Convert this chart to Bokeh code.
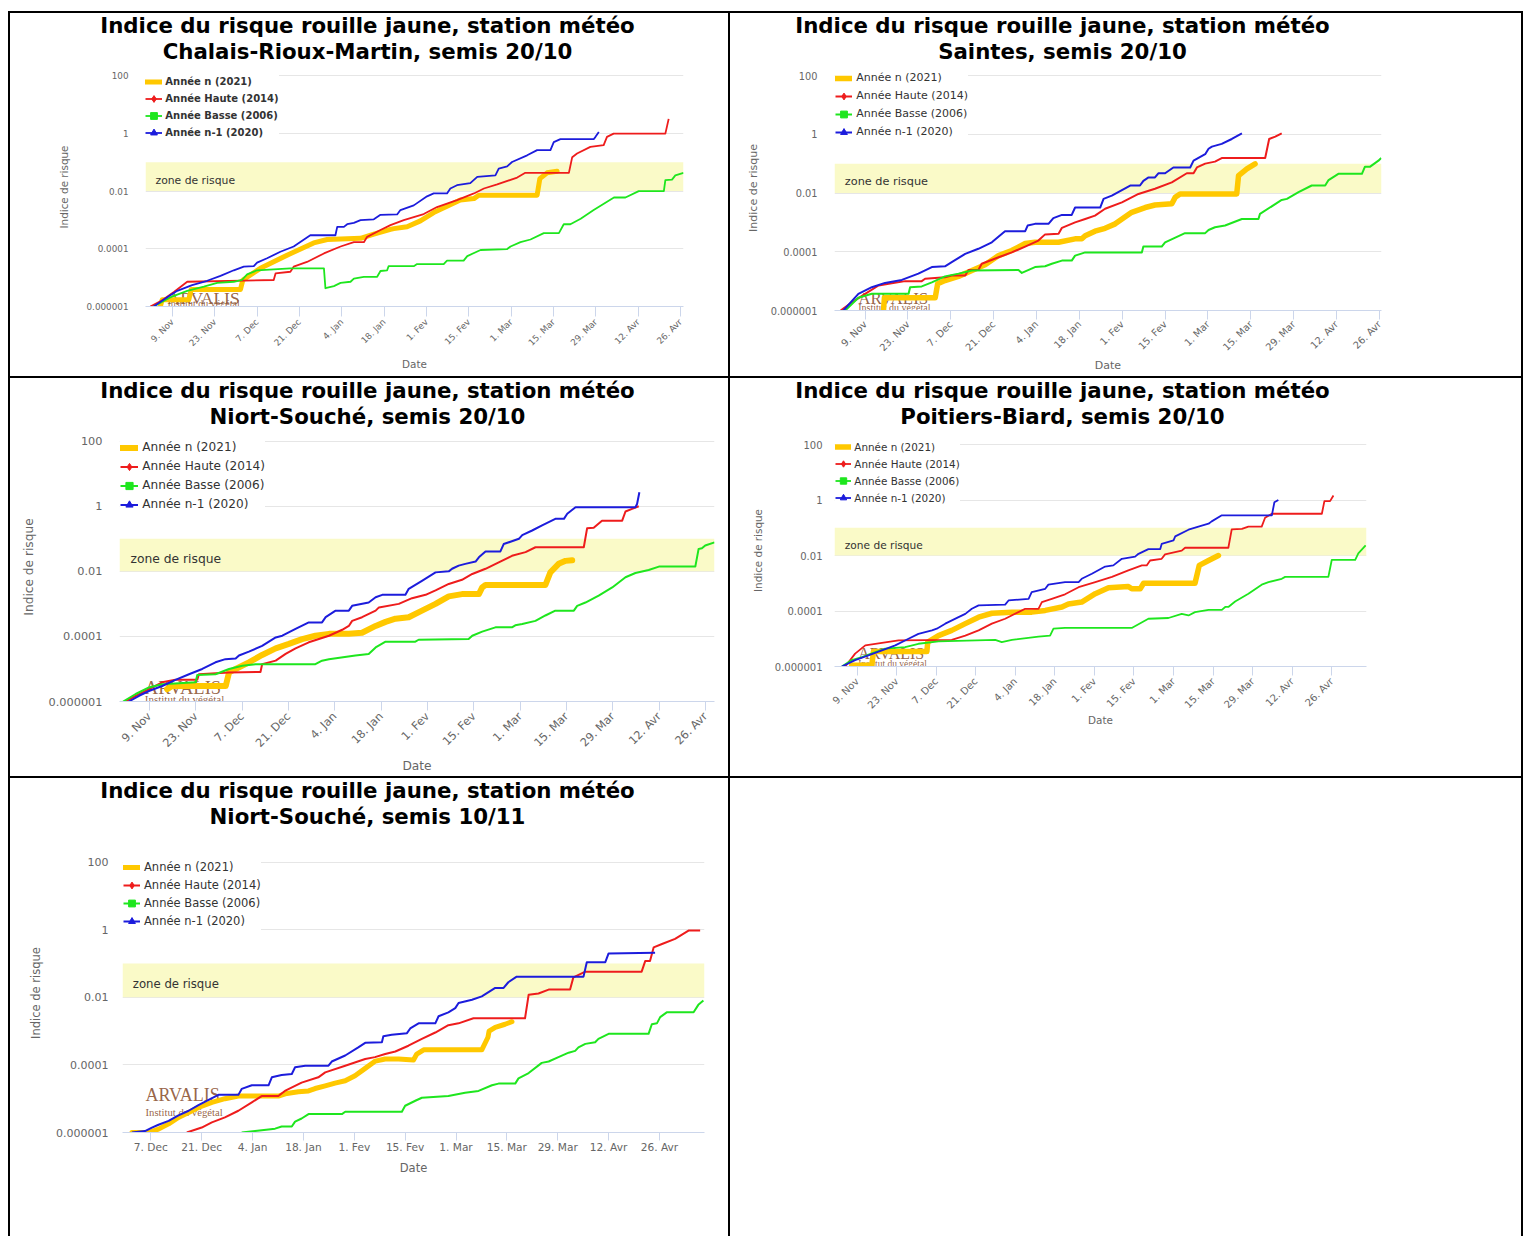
import math
import numpy as np
from bokeh.plotting import figure
from bokeh.models import (Range1d, FixedTicker, BoxAnnotation, Label, Legend, LegendItem,
                          GridBox, Div, Spacer)
from bokeh.layouts import column, row
from bokeh.embed import file_html
from bokeh.resources import INLINE

FONT = "DejaVu Sans"
LOGO_FONT = "Liberation Serif"

# ---------------- shared axis data ----------------
# x values are days after 1 Nov 2020
X_TICK_DAYS = [8, 22, 36, 50, 64, 78, 92, 106, 120, 134, 148, 162, 176]
X_TICK_LABELS = ["9. Nov", "23. Nov", "7. Dec", "21. Dec", "4. Jan", "18. Jan", "1. Fev",
                 "15. Fev", "1. Mar", "15. Mar", "29. Mar", "12. Avr", "26. Avr"]
Y_TICKS = [1e-6, 1e-4, 1e-2, 1, 100]
Y_TICK_LABELS = ["0.000001", "0.0001", "0.01", "1", "100"]
RISK_ZONE = [0.01, 0.1]
SERIES_NAMES = ["Année n (2021)", "Année Haute (2014)", "Année Basse (2006)", "Année n-1 (2020)"]

# ---------------- Chart 1 : Chalais-Rioux-Martin, semis 20/10 ----------------
C1_N_DAYS = [4.0, 4.6, 13.4, 14.2, 30.5, 31.3, 37.1, 45.9, 54.7, 59.2, 70.2, 74.6, 80.1, 81.2, 85.6,
             90.0, 94.4, 98.8, 103.2, 107.7, 109.3, 128.6, 129.5, 131.9, 135.2]
C1_N_VALS = [1.0e-6, 1.7e-6, 1.7e-6, 3.9e-6, 3.9e-6, 8.3e-6, 2.1e-5, 6.0e-5, 1.6e-4, 2.1e-4, 2.3e-4,
             3.2e-4, 4.7e-4, 5.0e-4, 5.8e-4, 9.3e-4, 1.8e-3, 3.0e-3, 4.9e-3, 5.5e-3, 7.2e-3, 7.2e-3,
             2.7e-2, 4.3e-2, 4.9e-2]
C1_HAUTE_DAYS = [0.7, 4.0, 8.5, 12.9, 41.5, 42.1, 47.0, 48.1, 52.5, 58.1, 63.6, 68.0, 71.3, 72.4, 76.8,
                 80.1, 84.5, 91.1, 95.5, 102.1, 107.7, 111.0, 115.4, 122.0, 124.7, 139.1, 140.2, 141.8,
                 146.2, 150.6, 151.7, 153.9, 171.0, 172.1]
C1_HAUTE_VALS = [1.0e-6, 1.5e-6, 3.2e-6, 7.2e-6, 8.3e-6, 1.4e-5, 1.6e-5, 2.4e-5, 3.5e-5, 6.9e-5, 1.2e-4,
                 1.7e-4, 1.7e-4, 2.6e-4, 4.5e-4, 6.6e-4, 9.8e-4, 1.6e-3, 2.8e-3, 4.9e-3, 8.3e-3, 1.23e-2,
                 1.7e-2, 2.95e-2, 4.3e-2, 4.3e-2, 0.15, 0.20, 0.34, 0.39, 0.76, 0.98, 0.98, 3.2]
C1_BASSE_DAYS = [1.8, 7.4, 12.9, 18.4, 22.8, 28.3, 31.0, 32.7, 36.0, 41.5, 47.0, 58.1, 58.6, 61.4, 63.6,
                 66.9, 68.0, 71.3, 75.7, 76.8, 79.0, 79.5, 87.8, 88.9, 97.7, 98.8, 104.3, 105.5, 109.9,
                 118.7, 119.8, 123.1, 126.4, 130.8, 135.8, 137.4, 139.6, 143.0, 147.3, 154.0, 157.8,
                 162.2, 170.5, 171.0, 173.2, 174.3, 177.0]
C1_BASSE_VALS = [1.0e-6, 2.1e-6, 3.5e-6, 4.9e-6, 6.6e-6, 7.2e-6, 8.3e-6, 1.3e-5, 1.8e-5, 1.95e-5, 2.1e-5,
                 2.1e-5, 4.3e-6, 5.1e-6, 6.6e-6, 7.2e-6, 9.3e-6, 1.07e-5, 1.07e-5, 1.7e-5, 1.8e-5, 2.5e-5,
                 2.5e-5, 2.95e-5, 2.95e-5, 3.9e-5, 3.9e-5, 5.6e-5, 9.1e-5, 9.8e-5, 1.2e-4, 1.7e-4, 2.1e-4,
                 3.5e-4, 3.5e-4, 7.1e-4, 7.1e-4, 1.1e-3, 2.2e-3, 6.0e-3, 6.0e-3, 1.0e-2, 1.0e-2, 2.4e-2,
                 2.5e-2, 3.5e-2, 4.3e-2]
C1_N1_DAYS = [1.8, 7.4, 9.6, 14.5, 19.5, 23.9, 28.3, 31.6, 34.9, 36.0, 39.3, 43.7, 48.1, 53.6, 61.9,
              62.5, 64.7, 65.8, 68.0, 70.2, 74.6, 76.8, 82.3, 83.4, 87.8, 92.2, 94.4, 98.8, 99.9, 102.1,
              106.5, 108.8, 114.8, 115.9, 118.7, 120.3, 125.3, 128.6, 133.0, 134.1, 136.3, 147.3, 147.9,
              149.0]
C1_N1_VALS = [1.0e-6, 2.5e-6, 3.5e-6, 5.5e-6, 7.8e-6, 1.15e-5, 1.8e-5, 2.4e-5, 2.5e-5, 3.3e-5, 4.7e-5,
              7.9e-5, 1.2e-4, 2.95e-4, 2.95e-4, 5.75e-4, 5.75e-4, 7.1e-4, 7.9e-4, 9.8e-4, 1.05e-3, 1.5e-3,
              1.55e-3, 2.2e-3, 3.2e-3, 6.6e-3, 8.3e-3, 8.3e-3, 1.23e-2, 1.6e-2, 1.9e-2, 3.1e-2, 3.5e-2,
              6.0e-2, 7.2e-2, 0.102, 0.174, 0.263, 0.263, 0.50, 0.63, 0.63, 0.76, 1.12]

# ---------------- Chart 2 : Saintes, semis 20/10 ----------------
C2_N_DAYS = [14.0, 14.3, 30.9, 31.7, 34.1, 38.5, 42.9, 47.2, 51.6, 55.9, 60.3, 63.5, 71.2, 76.6, 78.8,
             79.9, 83.1, 86.4, 89.7, 95.1, 99.5, 102.7, 108.2, 109.3, 110.9, 129.4, 130.0, 132.7, 135.4]
C2_N_VALS = [1.0e-6, 2.7e-6, 2.7e-6, 8.1e-6, 1.05e-5, 1.45e-5, 2.3e-5, 3.6e-5, 7.4e-5, 1.1e-4, 1.9e-4,
             2.1e-4, 2.1e-4, 2.75e-4, 2.75e-4, 3.5e-4, 5.0e-4, 6.3e-4, 8.9e-4, 2.2e-3, 3.2e-3, 3.9e-3,
             4.3e-3, 7.1e-3, 9.3e-3, 9.3e-3, 3.9e-2, 6.6e-2, 9.8e-2]
C2_HAUTE_DAYS = [0.0, 3.7, 8.0, 12.4, 16.7, 21.1, 26.5, 27.6, 34.1, 36.3, 40.7, 41.8, 45.0, 46.1, 51.6,
                 55.9, 60.3, 64.6, 66.8, 71.2, 72.3, 76.6, 79.9, 83.1, 86.4, 91.9, 97.3, 102.7, 108.2,
                 113.1, 115.3, 116.4, 119.1, 122.3, 124.5, 138.7, 140.0, 142.0, 144.1]
C2_HAUTE_VALS = [1.0e-6, 1.9e-6, 3.7e-6, 7.1e-6, 8.5e-6, 1.0e-5, 1.0e-5, 1.2e-5, 1.35e-5, 1.55e-5,
                 1.55e-5, 2.4e-5, 2.4e-5, 3.9e-5, 6.5e-5, 9.5e-5, 1.5e-4, 2.4e-4, 3.9e-4, 4.1e-4, 6.5e-4,
                 1.0e-3, 1.3e-3, 1.7e-3, 2.9e-3, 4.8e-3, 9.3e-3, 1.4e-2, 2.3e-2, 4.7e-2, 4.7e-2, 7.4e-2,
                 0.10, 0.117, 0.155, 0.155, 0.69, 0.83, 1.07]
C2_BASSE_DAYS = [1.5, 5.8, 10.2, 22.2, 22.7, 26.5, 29.8, 34.1, 38.5, 42.9, 58.1, 59.2, 63.5, 66.8, 69.0,
                 72.3, 75.5, 76.6, 79.9, 98.4, 98.9, 104.9, 106.0, 112.5, 119.1, 120.2, 122.3, 125.6,
                 131.1, 136.5, 137.0, 144.1, 145.8, 149.6, 153.9, 158.3, 159.4, 162.6, 170.3, 171.3,
                 173.0, 175.7, 176.6]
C2_BASSE_VALS = [1.0e-6, 2.7e-6, 3.7e-6, 3.7e-6, 6.2e-6, 6.6e-6, 9.1e-6, 1.45e-5, 1.8e-5, 2.3e-5, 2.4e-5,
                 1.9e-5, 3.0e-5, 3.2e-5, 3.9e-5, 5.0e-5, 5.0e-5, 7.4e-5, 9.5e-5, 9.5e-5, 1.5e-4, 1.5e-4,
                 2.1e-4, 4.3e-4, 4.3e-4, 5.5e-4, 6.8e-4, 7.8e-4, 1.3e-3, 1.3e-3, 1.95e-3, 5.8e-3, 6.3e-3,
                 1.07e-2, 1.8e-2, 1.8e-2, 2.75e-2, 4.5e-2, 4.5e-2, 7.9e-2, 7.9e-2, 0.126, 0.155]
C2_N1_DAYS = [0.9, 5.8, 10.2, 14.5, 20.0, 25.4, 29.8, 34.1, 36.3, 40.7, 45.0, 49.4, 53.7, 60.3, 61.1,
              63.5, 67.9, 69.5, 72.3, 75.5, 76.6, 84.8, 85.9, 88.6, 94.6, 97.8, 98.9, 100.6, 102.7, 103.8,
              106.0, 108.7, 114.2, 115.3, 119.1, 120.2, 121.3, 124.5, 127.8, 131.1]
C2_N1_VALS = [1.0e-6, 3.7e-6, 6.2e-6, 8.7e-6, 1.1e-5, 1.8e-5, 3.0e-5, 3.2e-5, 4.4e-5, 8.5e-5, 1.26e-4,
              2.1e-4, 5.0e-4, 5.0e-4, 7.8e-4, 8.9e-4, 8.9e-4, 1.4e-3, 1.8e-3, 1.8e-3, 3.2e-3, 3.2e-3,
              6.3e-3, 8.1e-3, 1.8e-2, 1.8e-2, 2.6e-2, 3.4e-2, 3.4e-2, 4.7e-2, 4.7e-2, 7.4e-2, 7.4e-2,
              0.126, 0.21, 0.32, 0.38, 0.47, 0.69, 1.07]

# ---------------- Chart 3 : Niort-Souché, semis 20/10 ----------------
C3_N_DAYS = [13.3, 14.8, 31.0, 32.0, 34.0, 38.0, 42.0, 46.1, 50.1, 54.1, 58.1, 62.2, 68.2, 72.2, 76.3,
             79.3, 82.3, 86.3, 90.3, 94.4, 98.4, 102.4, 107.5, 108.5, 109.5, 127.6, 129.1, 131.6, 133.7,
             135.7]
C3_N_VALS = [2.4e-6, 3.0e-6, 3.0e-6, 7.8e-6, 1.0e-5, 1.6e-5, 2.7e-5, 4.3e-5, 5.9e-5, 8.3e-5, 1.05e-4,
             1.2e-4, 1.2e-4, 1.3e-4, 2.1e-4, 2.8e-4, 3.5e-4, 3.9e-4, 6.2e-4, 1.0e-3, 1.7e-3, 2.0e-3,
             2.0e-3, 3.2e-3, 3.8e-3, 3.8e-3, 9.3e-3, 1.7e-2, 2.1e-2, 2.2e-2]
C3_HAUTE_DAYS = [0.7, 3.8, 7.8, 11.8, 15.8, 22.4, 22.9, 32.0, 41.5, 42.0, 46.1, 49.1, 52.1, 56.1, 62.2,
                 66.2, 68.2, 69.2, 72.2, 76.3, 77.3, 83.3, 87.3, 91.4, 94.4, 98.4, 102.4, 105.5, 109.5,
                 113.5, 117.5, 121.6, 124.6, 139.2, 140.2, 142.2, 144.7, 150.8, 151.8, 153.8, 155.8]
C3_HAUTE_VALS = [1.0e-6, 1.5e-6, 2.4e-6, 3.9e-6, 4.7e-6, 4.7e-6, 6.9e-6, 7.8e-6, 8.1e-6, 1.4e-5, 1.8e-5,
                 2.9e-5, 4.3e-5, 6.6e-5, 1.05e-4, 1.6e-4, 2.1e-4, 3.0e-4, 3.9e-4, 6.2e-4, 7.8e-4, 1.0e-3,
                 1.5e-3, 1.9e-3, 2.6e-3, 4.1e-3, 5.5e-3, 8.3e-3, 1.2e-2, 1.9e-2, 3.0e-2, 3.9e-2, 5.5e-2,
                 5.5e-2, 0.21, 0.22, 0.36, 0.36, 0.69, 0.83, 1.0]
C3_BASSE_DAYS = [0.0, 3.8, 7.8, 11.8, 21.9, 22.4, 27.9, 32.0, 36.0, 40.0, 58.1, 60.1, 62.2, 70.2, 74.2,
                 76.3, 79.3, 88.3, 89.3, 104.4, 105.5, 108.5, 112.5, 117.5, 118.5, 120.6, 124.6, 127.6,
                 130.6, 136.2, 137.2, 139.7, 143.7, 147.8, 151.8, 154.8, 158.8, 161.9, 172.9, 173.9,
                 174.9, 175.9, 178.7]
C3_BASSE_VALS = [1.0e-6, 1.7e-6, 2.7e-6, 3.4e-6, 3.9e-6, 6.5e-6, 6.9e-6, 1.0e-5, 1.26e-5, 1.4e-5, 1.4e-5,
                 1.8e-5, 2.0e-5, 2.6e-5, 2.9e-5, 4.6e-5, 6.9e-5, 6.9e-5, 7.9e-5, 8.3e-5, 1.05e-4, 1.4e-4,
                 1.9e-4, 1.9e-4, 2.2e-4, 2.4e-4, 3.0e-4, 4.4e-4, 6.2e-4, 6.2e-4, 8.7e-4, 1.1e-3, 1.8e-3,
                 3.2e-3, 6.6e-3, 8.9e-3, 1.1e-2, 1.4e-2, 1.4e-2, 4.9e-2, 5.1e-2, 6.2e-2, 7.8e-2]
C3_N1_DAYS = [1.7, 4.8, 7.8, 11.8, 15.8, 19.9, 23.9, 27.9, 30.9, 34.0, 35.0, 38.0, 42.0, 46.1, 48.1,
              52.1, 56.1, 60.1, 61.2, 64.2, 68.2, 69.2, 74.2, 76.3, 78.3, 85.3, 86.3, 90.3, 94.4, 98.4,
              99.4, 101.4, 103.4, 106.5, 107.5, 109.5, 114.0, 115.0, 119.6, 120.6, 123.6, 126.6, 130.6,
              133.2, 134.2, 136.7, 154.8, 155.3, 156.0]
C3_N1_VALS = [1.0e-6, 1.5e-6, 2.1e-6, 3.0e-6, 4.6e-6, 6.9e-6, 1.0e-5, 1.6e-5, 2.0e-5, 2.1e-5, 2.6e-5,
              3.4e-5, 5.1e-5, 9.3e-5, 1.05e-4, 1.7e-4, 2.7e-4, 2.7e-4, 3.9e-4, 6.2e-4, 6.2e-4, 8.7e-4,
              1.1e-3, 1.6e-3, 1.9e-3, 1.9e-3, 2.9e-3, 5.1e-3, 9.3e-3, 1.0e-2, 1.2e-2, 1.5e-2, 1.7e-2,
              2.0e-2, 2.7e-2, 4.1e-2, 4.1e-2, 6.9e-2, 0.10, 0.13, 0.18, 0.26, 0.41, 0.41, 0.59, 0.93,
              0.93, 1.17, 2.7]

# ---------------- Chart 4 : Poitiers-Biard, semis 20/10 ----------------
C4_N_DAYS = [6.1, 13.2, 13.8, 32.7, 33.0, 36.8, 41.5, 46.3, 51.0, 55.7, 62.8, 69.8, 74.6, 80.5, 82.8,
             87.5, 92.3, 97.0, 104.0, 105.2, 108.2, 109.4, 127.6, 129.1, 132.4, 135.9]
C4_N_VALS = [1.1e-6, 1.1e-6, 3.5e-6, 3.5e-6, 7.6e-6, 1.3e-5, 2.0e-5, 3.5e-5, 6.0e-5, 8.3e-5, 9.1e-5,
             9.1e-5, 1.05e-4, 1.4e-4, 1.8e-4, 2.1e-4, 4.2e-4, 6.9e-4, 7.6e-4, 6.3e-4, 6.3e-4, 1.0e-3,
             1.0e-3, 4.4e-3, 6.6e-3, 1.0e-2]
C4_HAUTE_DAYS = [3.8, 7.3, 10.9, 22.7, 41.5, 46.3, 51.0, 55.7, 60.4, 65.1, 67.5, 72.2, 73.4, 76.9, 81.6,
                 86.4, 92.3, 98.2, 104.0, 108.8, 110.5, 111.7, 115.8, 117.0, 122.9, 124.1, 139.4, 140.6,
                 144.2, 146.5, 151.2, 152.4, 154.8, 172.5, 173.4, 175.4, 176.6]
C4_HAUTE_VALS = [1.0e-6, 2.9e-6, 5.75e-6, 8.7e-6, 9.1e-6, 1.3e-5, 2.0e-5, 3.5e-5, 5.25e-5, 9.1e-5, 1.2e-4,
                 1.2e-4, 2.1e-4, 2.75e-4, 4.0e-4, 7.2e-4, 1.1e-3, 1.7e-3, 2.9e-3, 4.4e-3, 4.4e-3, 6.6e-3,
                 7.6e-3, 1.1e-2, 1.5e-2, 1.9e-2, 1.9e-2, 8.7e-2, 9.1e-2, 0.11, 0.11, 0.23, 0.32, 0.32,
                 0.91, 0.91, 1.45]
C4_BASSE_DAYS = [2.6, 6.1, 9.7, 13.2, 17.9, 25.0, 29.7, 36.8, 56.9, 59.2, 62.8, 72.2, 76.3, 77.5, 81.6,
                 105.2, 111.1, 118.2, 122.9, 125.3, 127.6, 132.4, 137.1, 138.3, 139.4, 141.8, 146.5,
                 151.2, 153.6, 158.3, 159.5, 174.8, 176.0, 184.3, 185.4, 188.0]
C4_BASSE_VALS = [1.0e-6, 1.7e-6, 2.2e-6, 3.0e-6, 4.4e-6, 5.0e-6, 6.6e-6, 8.1e-6, 9.1e-6, 7.6e-6, 9.1e-6,
                 1.2e-5, 1.3e-5, 2.3e-5, 2.45e-5, 2.45e-5, 5.25e-5, 5.6e-5, 7.9e-5, 6.9e-5, 9.1e-5, 1.1e-4,
                 1.1e-4, 1.4e-4, 1.4e-4, 2.2e-4, 4.2e-4, 8.9e-4, 1.1e-3, 1.45e-3, 1.7e-3, 1.7e-3, 6.9e-3,
                 6.9e-3, 1.2e-2, 2.3e-2]
C4_N1_DAYS = [2.6, 7.3, 12.0, 16.8, 21.5, 26.2, 29.7, 34.5, 36.2, 39.2, 43.9, 46.3, 48.6, 51.0, 60.4,
              61.6, 68.7, 69.8, 74.6, 75.7, 81.6, 86.4, 87.5, 91.1, 95.8, 98.7, 101.7, 106.4, 107.6,
              111.1, 115.3, 115.8, 120.0, 120.6, 125.3, 130.0, 132.4, 133.5, 137.1, 154.8, 155.7, 157.1]
C4_N1_VALS = [1.0e-6, 1.7e-6, 2.5e-6, 3.8e-6, 5.75e-6, 1.0e-5, 1.5e-5, 2.0e-5, 2.3e-5, 3.5e-5, 6.0e-5,
              7.9e-5, 1.2e-4, 1.6e-4, 1.7e-4, 2.4e-4, 2.75e-4, 4.8e-4, 6.3e-4, 8.9e-4, 1.1e-3, 1.1e-3,
              1.45e-3, 2.2e-3, 4.0e-3, 4.4e-3, 7.6e-3, 9.1e-3, 1.15e-2, 1.7e-2, 1.7e-2, 2.6e-2, 3.5e-2,
              4.9e-2, 8.5e-2, 0.12, 0.14, 0.17, 0.28, 0.28, 0.83, 1.0]

# ---------------- Chart 5 : Niort-Souché, semis 10/11 ----------------
C5_N_DAYS = [30.8, 35.3, 38.1, 40.9, 43.6, 46.4, 49.1, 52.8, 56.4, 60.1, 71.1, 73.0, 76.6, 79.4, 81.2,
             84.0, 86.7, 89.5, 92.2, 95.0, 97.8, 100.5, 104.2, 108.3, 109.2, 111.1, 127.1, 128.8, 129.1,
             130.8, 133.5, 135.4]
C5_N_VALS = [1.0e-6, 1.0e-6, 1.26e-6, 1.8e-6, 2.8e-6, 3.9e-6, 5.5e-6, 7.8e-6, 1.0e-5, 1.2e-5, 1.2e-5,
             1.4e-5, 1.6e-5, 1.7e-5, 2.0e-5, 2.4e-5, 2.9e-5, 3.4e-5, 4.8e-5, 7.9e-5, 1.3e-4, 1.5e-4,
             1.5e-4, 1.4e-4, 2.1e-4, 2.8e-4, 2.8e-4, 6.6e-4, 1.0e-3, 1.3e-3, 1.6e-3, 1.9e-3]
C5_HAUTE_DAYS = [45.9, 50.0, 52.8, 56.4, 60.1, 63.8, 66.5, 71.1, 72.9, 77.5, 82.1, 84.0, 89.5, 95.0, 97.7,
                 100.5, 103.3, 106.9, 110.6, 114.3, 117.9, 120.7, 124.8, 139.0, 140.0, 142.7, 145.5,
                 151.4, 152.3, 155.6, 171.1, 172.1, 173.4, 174.4, 176.7, 180.3, 184.0, 187.2]
C5_HAUTE_VALS = [1.0e-6, 1.4e-6, 2.0e-6, 2.8e-6, 4.4e-6, 7.8e-6, 1.2e-5, 1.2e-5, 1.7e-5, 3.0e-5, 4.3e-5,
                 6.0e-5, 9.5e-5, 1.5e-4, 1.7e-4, 2.1e-4, 2.5e-4, 3.7e-4, 5.9e-4, 9.1e-4, 1.5e-3, 1.7e-3,
                 2.4e-3, 2.4e-3, 1.2e-2, 1.3e-2, 1.7e-2, 1.7e-2, 3.9e-2, 5.75e-2, 5.75e-2, 0.12, 0.12,
                 0.30, 0.38, 0.54, 0.95, 0.95]
C5_BASSE_DAYS = [61.0, 64.7, 70.2, 72.0, 74.8, 75.7, 77.5, 79.4, 88.6, 89.5, 105.1, 106.0, 108.8, 110.6,
                 117.9, 122.5, 126.2, 129.9, 131.7, 136.3, 137.2, 140.0, 143.6, 145.5, 148.2, 151.0,
                 152.8, 153.7, 155.6, 158.3, 159.2, 162.0, 173.0, 173.9, 175.3, 176.2, 178.0, 185.4,
                 186.7, 188.1]
C5_BASSE_VALS = [1.0e-6, 1.1e-6, 1.3e-6, 1.5e-6, 1.5e-6, 2.1e-6, 2.6e-6, 3.5e-6, 3.5e-6, 4.1e-6, 4.1e-6,
                 6.2e-6, 8.7e-6, 1.07e-5, 1.2e-5, 1.5e-5, 1.7e-5, 2.5e-5, 2.8e-5, 2.8e-5, 4.0e-5, 5.75e-5,
                 1.15e-4, 1.26e-4, 1.7e-4, 2.3e-4, 2.6e-4, 3.3e-4, 4.2e-4, 4.7e-4, 5.9e-4, 8.3e-4, 8.3e-4,
                 1.6e-3, 1.7e-3, 2.6e-3, 3.6e-3, 3.6e-3, 6.0e-3, 8.1e-3]
C5_N1_DAYS = [30.8, 34.4, 36.3, 38.1, 40.9, 43.6, 46.4, 49.1, 51.9, 54.6, 60.1, 61.0, 63.8, 68.4, 69.3,
              72.0, 74.8, 75.7, 78.5, 84.9, 85.8, 89.5, 93.1, 95.0, 99.6, 100.0, 102.3, 106.5, 107.4,
              109.7, 114.3, 115.2, 117.9, 119.8, 120.7, 124.4, 127.1, 130.8, 133.1, 134.4, 136.7, 155.1,
              156.0, 161.1, 162.0, 174.8]
C5_N1_VALS = [1.0e-6, 1.1e-6, 1.4e-6, 1.7e-6, 2.2e-6, 3.2e-6, 4.4e-6, 6.5e-6, 9.3e-6, 1.3e-5, 1.3e-5,
              1.95e-5, 2.5e-5, 2.5e-5, 4.3e-5, 5.0e-5, 5.4e-5, 8.5e-5, 9.5e-5, 9.5e-5, 1.26e-4, 1.9e-4,
              3.3e-4, 4.5e-4, 4.7e-4, 7.1e-4, 7.8e-4, 8.7e-4, 1.2e-3, 1.7e-3, 1.7e-3, 2.75e-3, 3.6e-3,
              4.8e-3, 6.8e-3, 8.5e-3, 1.07e-2, 1.9e-2, 1.9e-2, 2.8e-2, 4.1e-2, 4.1e-2, 0.11, 0.11, 0.20,
              0.21]

# ---------------- styles ----------------
COLORS = ["#ffc800", "#ee1c1c", "#1ee61e", "#1c1cdc"]
MARKERS = [None, "diamond", "square", "triangle"]
ZONE_COLOR = "#fafac8"
GRID_COLOR = "#e6e6e6"
AXIS_COLOR = "#ccd6eb"
TITLE_LINE1 = "Indice du risque rouille jaune, station météo"

# page geometry (pixels) : cell = (x, y, width, height), frame = (left, top, right, bottom),
# y100 = pixel row of the "100" grid line
CHARTS = [
    dict(title2="Chalais-Rioux-Martin, semis 20/10",
         series=[(C1_N_DAYS, C1_N_VALS), (C1_HAUTE_DAYS, C1_HAUTE_VALS),
                 (C1_BASSE_DAYS, C1_BASSE_VALS), (C1_N1_DAYS, C1_N1_VALS)],
         cell=(10, 13, 718, 363), title_h=52, frame=(145, 67, 683, 306), y100=75.2,
         xrange=(-0.9, 177.0), title_x=367.5,
         tick_size=8.8, xtick_size=8.8, axis_title_size=10.4, ylab_standoff=17, yaxis_standoff=14,
         tick_out=10, xlab_standoff=4, xaxis_standoff=3, rotate=True,
         legend=(147.3, 79, 17.1, 16.7, 3.3, 10, "bold"),
         zone=(155, 180, 10.8), logo=(167, 297, 311, 17.5, 10), yellow_w=5, line_w=1.8),
    dict(title2="Saintes, semis 20/10",
         series=[(C2_N_DAYS, C2_N_VALS), (C2_HAUTE_DAYS, C2_HAUTE_VALS),
                 (C2_BASSE_DAYS, C2_BASSE_VALS), (C2_N1_DAYS, C2_N1_VALS)],
         cell=(730, 13, 791, 363), title_h=52, frame=(834, 65, 1381, 310), y100=75.0,
         xrange=(-2.0, 176.7), title_x=1062.5,
         tick_size=9.8, xtick_size=9.8, axis_title_size=11, ylab_standoff=17, yaxis_standoff=8,
         tick_out=9, xlab_standoff=3, xaxis_standoff=-1, rotate=True,
         legend=(837.3, 77.3, 17.6, 16.7, 4.3, 11, "normal"),
         zone=(844.3, 180.7, 11.3), logo=(857.7, 298.3, 315, 17, 10), yellow_w=5.5, line_w=2),
    dict(title2="Niort-Souché, semis 20/10",
         series=[(C3_N_DAYS, C3_N_VALS), (C3_HAUTE_DAYS, C3_HAUTE_VALS),
                 (C3_BASSE_DAYS, C3_BASSE_VALS), (C3_N1_DAYS, C3_N1_VALS)],
         cell=(10, 378, 718, 398), title_h=52, frame=(119, 432, 714, 701), y100=440.7,
         xrange=(-1.1, 178.7), title_x=367.5,
         tick_size=11.3, xtick_size=11.3, axis_title_size=12.2, ylab_standoff=17, yaxis_standoff=10,
         tick_out=9, xlab_standoff=4, xaxis_standoff=1, rotate=True,
         legend=(122.3, 445, 19, 17.7, 4.3, 12.1, "normal"),
         zone=(130, 558.3, 12.3), logo=(144.3, 687.7, 706.7, 18.5, 11), yellow_w=6, line_w=2),
    dict(title2="Poitiers-Biard, semis 20/10",
         series=[(C4_N_DAYS, C4_N_VALS), (C4_HAUTE_DAYS, C4_HAUTE_VALS),
                 (C4_BASSE_DAYS, C4_BASSE_VALS), (C4_N1_DAYS, C4_N1_VALS)],
         cell=(730, 378, 791, 398), title_h=52, frame=(834, 434, 1366, 666), y100=444.0,
         xrange=(0.0, 188.3), title_x=1062.5,
         tick_size=10, xtick_size=10, axis_title_size=10.4, ylab_standoff=12, yaxis_standoff=8,
         tick_out=9, xlab_standoff=4, xaxis_standoff=-4, rotate=True,
         legend=(837.3, 446, 16.7, 16, 3.4, 10.4, "normal"),
         zone=(844.3, 544, 10.6), logo=(857.7, 652.7, 670.7, 16, 9.5), yellow_w=5.5, line_w=1.8),
    dict(title2="Niort-Souché, semis 10/11",
         series=[(C5_N_DAYS, C5_N_VALS), (C5_HAUTE_DAYS, C5_HAUTE_VALS),
                 (C5_BASSE_DAYS, C5_BASSE_VALS), (C5_N1_DAYS, C5_N1_VALS)],
         cell=(10, 778, 718, 458), title_h=54, frame=(122, 853, 704, 1132), y100=861.7,
         xrange=(28.2, 188.4), title_x=367.5,
         tick_size=11, xtick_size=10.6, axis_title_size=11.5, ylab_standoff=14, yaxis_standoff=10,
         tick_out=8, xlab_standoff=0, xaxis_standoff=5, rotate=False,
         legend=(125, 865.3, 18, 16.7, 4.3, 11.5, "normal"),
         zone=(132.3, 983.3, 11.7), logo=(145, 1094.3, 1111.7, 18, 10.7), yellow_w=5, line_w=2),
]


def px(v):
    return f"{v}px"


def make_chart(c):
    cx, cy, W, H = c["cell"]
    th = c["title_h"]
    fy = cy + th                # figure top on the page
    fh = H - th                 # figure height
    L, T, R, B = c["frame"]
    decade = (B - c["y100"]) / 8.0
    y_top = 100 * 10 ** ((c["y100"] - T) / decade)

    p = figure(width=W, height=fh, y_axis_type="log", title=None,
               x_range=Range1d(*c["xrange"]), y_range=Range1d(1e-6, y_top),
               output_backend="svg", toolbar_location=None,
               min_border_left=L - cx, min_border_right=cx + W - R,
               min_border_top=T - fy, min_border_bottom=fy + fh - B)
    p.outline_line_color = None
    p.background_fill_color = "white"
    p.border_fill_color = "white"
    p.xgrid.visible = False

    # y axis (log)
    yt = FixedTicker(ticks=Y_TICKS, minor_ticks=[])
    ya = p.yaxis[0]
    ya.ticker = yt
    p.ygrid[0].ticker = yt
    p.ygrid[0].grid_line_color = GRID_COLOR
    ya.major_label_overrides = {t: s for t, s in zip(Y_TICKS, Y_TICK_LABELS)}
    ya.axis_line_color = None
    ya.major_tick_line_color = None
    ya.minor_tick_line_color = None
    ya.major_tick_out = 0
    ya.major_tick_in = 0
    ya.major_label_standoff = c["ylab_standoff"]
    ya.major_label_text_font = FONT
    ya.major_label_text_font_size = px(c["tick_size"])
    ya.major_label_text_color = "#666666"
    ya.axis_label = "Indice de risque"
    ya.axis_label_text_font = FONT
    ya.axis_label_text_font_style = "normal"
    ya.axis_label_text_font_size = px(c["axis_title_size"])
    ya.axis_label_text_color = "#666666"
    ya.axis_label_standoff = c["yaxis_standoff"]

    # x axis (days after 1 Nov)
    xa = p.xaxis[0]
    xa.ticker = FixedTicker(ticks=X_TICK_DAYS, minor_ticks=[])
    xa.major_label_overrides = {d: s for d, s in zip(X_TICK_DAYS, X_TICK_LABELS)}
    xa.major_label_orientation = math.pi / 4 if c["rotate"] else "horizontal"
    xa.axis_line_color = AXIS_COLOR
    xa.major_tick_line_color = AXIS_COLOR
    xa.minor_tick_line_color = None
    xa.major_tick_out = c["tick_out"]
    xa.major_tick_in = 0
    xa.major_label_standoff = c["xlab_standoff"]
    xa.major_label_text_font = FONT
    xa.major_label_text_font_size = px(c["xtick_size"])
    xa.major_label_text_color = "#666666"
    xa.axis_label = "Date"
    xa.axis_label_text_font = FONT
    xa.axis_label_text_font_style = "normal"
    xa.axis_label_text_font_size = px(c["axis_title_size"])
    xa.axis_label_text_color = "#666666"
    xa.axis_label_standoff = c["xaxis_standoff"]

    # risk zone band
    p.add_layout(BoxAnnotation(bottom=RISK_ZONE[0], top=RISK_ZONE[1], fill_color=ZONE_COLOR,
                               fill_alpha=1.0, line_color=None, level="underlay"))

    def sx(page_x):
        return page_x - L

    def sy(page_y):
        return B - page_y

    zx, zy, zs = c["zone"]
    p.add_layout(Label(x=sx(zx), y=sy(zy), x_units="screen", y_units="screen", text="zone de risque",
                       text_font=FONT, text_font_size=px(zs), text_color="#333333",
                       text_baseline="middle", text_align="left", level="underlay"))

    # logo watermark (kept inside the plot area)
    lgx, lgy1, lgy2, s1, s2 = c["logo"]
    p.add_layout(Label(x=sx(lgx), y=sy(lgy1), x_units="screen", y_units="screen", text="ARVALIS",
                       text_font=LOGO_FONT, text_font_size=px(s1), text_color="#8b5232",
                       text_alpha=0.9, text_baseline="alphabetic", level="underlay"))
    p.add_layout(Label(x=sx(lgx), y=max(sy(lgy2), 3), x_units="screen", y_units="screen",
                       text="Institut du végétal", text_font=LOGO_FONT, text_font_size=px(s2),
                       text_color="#8b5232", text_alpha=0.9, text_baseline="alphabetic",
                       level="underlay"))

    # series (markers only appear in the legend, as in the original chart)
    items = []
    for i, (days, vals) in enumerate(c["series"]):
        color = COLORS[i]
        if i == 0:
            r = p.line(days, vals, line_color=color, line_width=c["yellow_w"],
                       line_join="round", line_cap="round")
            rs = [r]
        else:
            r = p.line(days, vals, line_color=color, line_width=c["line_w"], line_join="round")
            m = p.scatter(x=np.array([np.nan]), y=np.array([np.nan]), marker=MARKERS[i],
                          fill_color=color, line_color=color)
            rs = [r, m]
        items.append(LegendItem(label=SERIES_NAMES[i], renderers=rs))

    lx, ly, pitch, gw, stand, fs, style = c["legend"]
    pad = 2
    top = ly - pitch / 2 - pad
    height = 2 * pad + 4 * pitch
    legend = Legend(items=items, location=(lx - pad - L, B - (top + height)),
                    orientation="vertical", padding=pad, margin=0, spacing=0,
                    glyph_width=round(gw), glyph_height=round(pitch), label_height=round(pitch),
                    label_standoff=round(stand),
                    label_text_font=FONT, label_text_font_size=px(fs), label_text_font_style=style,
                    label_text_color="#333333", border_line_color=None,
                    background_fill_color="white", background_fill_alpha=1.0)
    p.add_layout(legend)

    # two-line title above the chart
    title = Div(text=f"{TITLE_LINE1}<br>{c['title2']}",
                width=int(round(2 * (c["title_x"] - cx))), height=th, margin=0,
                styles={"font-family": "DejaVu Sans", "font-weight": "bold", "font-size": "21.3px",
                        "line-height": "26px", "text-align": "center", "color": "black",
                        "white-space": "nowrap", "background-color": "white"})
    return column(title, p, spacing=0, styles={"background-color": "white"})


cells = [make_chart(c) for c in CHARTS]
empty = Div(text="", width=791, height=458, margin=0, styles={"background-color": "white"})

grid = GridBox(children=[(cells[0], 0, 0), (cells[1], 0, 1),
                         (cells[2], 1, 0), (cells[3], 1, 1),
                         (cells[4], 2, 0), (empty, 2, 1)],
               spacing=2,
               styles={"background-color": "black", "padding": "2px 2px 0px 2px"})

layout = column(Spacer(height=11), row(Spacer(width=8), grid))

open("out.html", "w").write(file_html(layout, INLINE, title="Indice du risque rouille jaune"))
